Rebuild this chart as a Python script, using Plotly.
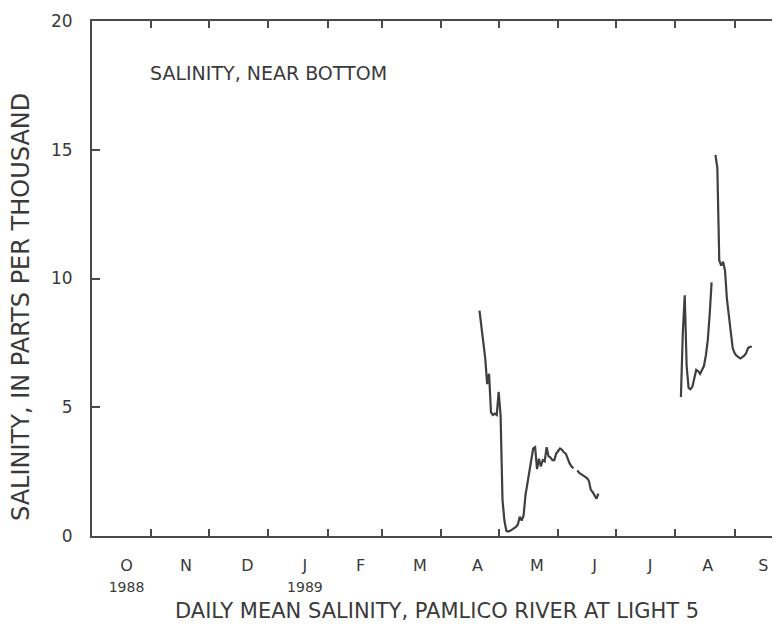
import plotly.graph_objects as go

# ---- data ----
dates = [
    "1989-04-21", "1989-04-22", "1989-04-23", "1989-04-24", "1989-04-25", "1989-04-26",
    "1989-04-27", "1989-04-28", "1989-04-29", "1989-04-30", "1989-05-01", "1989-05-02",
    "1989-05-03", "1989-05-04", "1989-05-05", "1989-05-06", "1989-05-07", "1989-05-08",
    "1989-05-09", "1989-05-10", "1989-05-11", "1989-05-12", "1989-05-13", "1989-05-14",
    "1989-05-15", "1989-05-16", "1989-05-17", "1989-05-18", "1989-05-19", "1989-05-20",
    "1989-05-21", "1989-05-22", "1989-05-23", "1989-05-24", "1989-05-25", "1989-05-26",
    "1989-05-27", "1989-05-28", "1989-05-29", "1989-05-30", "1989-05-31", "1989-06-01",
    "1989-06-02", "1989-06-03", "1989-06-04", "1989-06-05", "1989-06-06", "1989-06-07",
    "1989-06-08", "1989-06-09", "1989-06-10", "1989-06-11", "1989-06-12", "1989-06-13",
    "1989-06-14", "1989-06-15", "1989-06-16", "1989-06-17", "1989-06-18", "1989-06-19",
    "1989-06-20", "1989-06-21", "1989-06-22",
    "1989-06-23",
    "1989-08-04", "1989-08-05", "1989-08-06", "1989-08-07", "1989-08-08", "1989-08-09",
    "1989-08-10", "1989-08-11", "1989-08-12", "1989-08-13", "1989-08-14", "1989-08-15",
    "1989-08-16", "1989-08-17", "1989-08-18", "1989-08-19", "1989-08-20",
    "1989-08-21",
    "1989-08-22", "1989-08-23", "1989-08-24", "1989-08-25", "1989-08-26", "1989-08-27",
    "1989-08-28", "1989-08-29", "1989-08-30", "1989-08-31", "1989-09-01", "1989-09-02",
    "1989-09-03", "1989-09-04", "1989-09-05", "1989-09-06", "1989-09-07", "1989-09-08",
    "1989-09-09", "1989-09-10",
]
salinity = [
    8.75, 8.2, 7.5, 6.9, 5.9, 6.3,
    4.8, 4.7, 4.75, 4.7, 5.6, 4.7,
    1.4, 0.6, 0.2, 0.17, 0.2, 0.25,
    0.3, 0.35, 0.45, 0.75, 0.6, 0.8,
    1.6, 2.1, 2.5, 3.0, 3.4, 3.45,
    2.6, 3.0, 2.7, 2.95, 2.9, 3.45,
    3.1, 3.05, 2.95, 2.95, 3.2, 3.3,
    3.4, 3.35, 3.25, 3.2, 3.0, 2.82,
    2.7, 2.63, None, 2.55, 2.45, 2.4,
    2.35, 2.3, 2.25, 2.15, 1.8, 1.7,
    1.55, 1.45, 1.65,
    None,
    5.4, 7.9, 9.35, 6.6, 5.75, 5.7,
    5.8, 6.2, 6.45, 6.4, 6.3, 6.45,
    6.6, 7.0, 7.6, 8.6, 9.85,
    None,
    14.8, 14.3, 10.7, 10.5, 10.65, 10.3,
    9.2, 8.6, 8.1, 7.3, 7.1, 7.0,
    6.95, 6.9, 6.95, 7.0, 7.1, 7.3,
    7.35, 7.35,
]

month_label_dates = ["1988-10-19", "1988-11-19", "1988-12-21", "1989-01-20", "1989-02-18",
                     "1989-03-21", "1989-04-20", "1989-05-21", "1989-06-20", "1989-07-19",
                     "1989-08-18", "1989-09-16"]
month_labels = ["O<br><span style='font-size:14px'>1988</span>", "N", "D",
                "J<br><span style='font-size:14px'>1989</span>", "F", "M", "A", "M",
                "J", "J", "A", "S"]
month_starts = ["1988-11-01", "1988-12-01", "1989-01-01", "1989-02-01", "1989-03-01",
                "1989-04-01", "1989-05-01", "1989-06-01", "1989-07-01", "1989-08-01",
                "1989-09-01"]
y_ticks = [0, 5, 10, 15, 20]

LINE = "#3f3f3f"
AXIS = "#4a4a4a"
TEXT = "#3a3a3a"
FONT = "DejaVu Sans, Arial, sans-serif"

fig = go.Figure()
fig.add_trace(go.Scatter(x=dates, y=salinity, mode="lines",
                         line=dict(color=LINE, width=2.2), connectgaps=False,
                         showlegend=False, hoverinfo="skip"))

x_range = ["1988-10-01", "1989-09-27 19:00"]

fig.update_layout(
    width=780, height=631,
    margin=dict(l=84, r=2, t=13, b=103, autoexpand=False),
    paper_bgcolor="white", plot_bgcolor="white",
    font=dict(family=FONT, color=TEXT, size=16),
    xaxis=dict(
        type="date", range=x_range, automargin=False,
        showgrid=False, zeroline=False,
        showline=True, linecolor=AXIS, linewidth=2, mirror="ticks",
        tickmode="array", tickvals=month_label_dates, ticktext=month_labels,
        ticks="", ticklabelstandoff=14,
        tickfont=dict(size=16, color=TEXT, family=FONT),
        minor=dict(tickmode="array", tickvals=month_starts, ticks="inside",
                   ticklen=7, tickwidth=2, tickcolor=AXIS, showgrid=False),
    ),
    yaxis=dict(
        range=[0, 20], tickvals=y_ticks, automargin=False,
        showgrid=False, zeroline=False,
        showline=True, linecolor=AXIS, linewidth=2, mirror="ticks",
        ticks="inside", ticklen=8, tickwidth=2, tickcolor=AXIS,
        ticklabelstandoff=14,
        tickfont=dict(size=17, color=TEXT, family=FONT),
    ),
    annotations=[
        dict(text="SALINITY, NEAR BOTTOM", xref="paper", yref="paper",
             x=0.0807, y=0.899, xanchor="left", yanchor="middle", showarrow=False,
             font=dict(size=19, color=TEXT, family=FONT)),
        dict(text="SALINITY, IN PARTS PER THOUSAND", xref="paper", yref="paper",
             x=-0.1023, y=0.4447, xanchor="center", yanchor="middle", textangle=-90,
             showarrow=False, font=dict(size=24, color=TEXT, family=FONT)),
        dict(text="DAILY MEAN SALINITY, PAMLICO RIVER AT LIGHT 5", xref="paper",
             yref="paper", x=0.497, y=-0.1456, xanchor="center", yanchor="middle",
             showarrow=False, font=dict(size=21, color=TEXT, family=FONT)),
    ],
)

fig.write_html("out.html")
